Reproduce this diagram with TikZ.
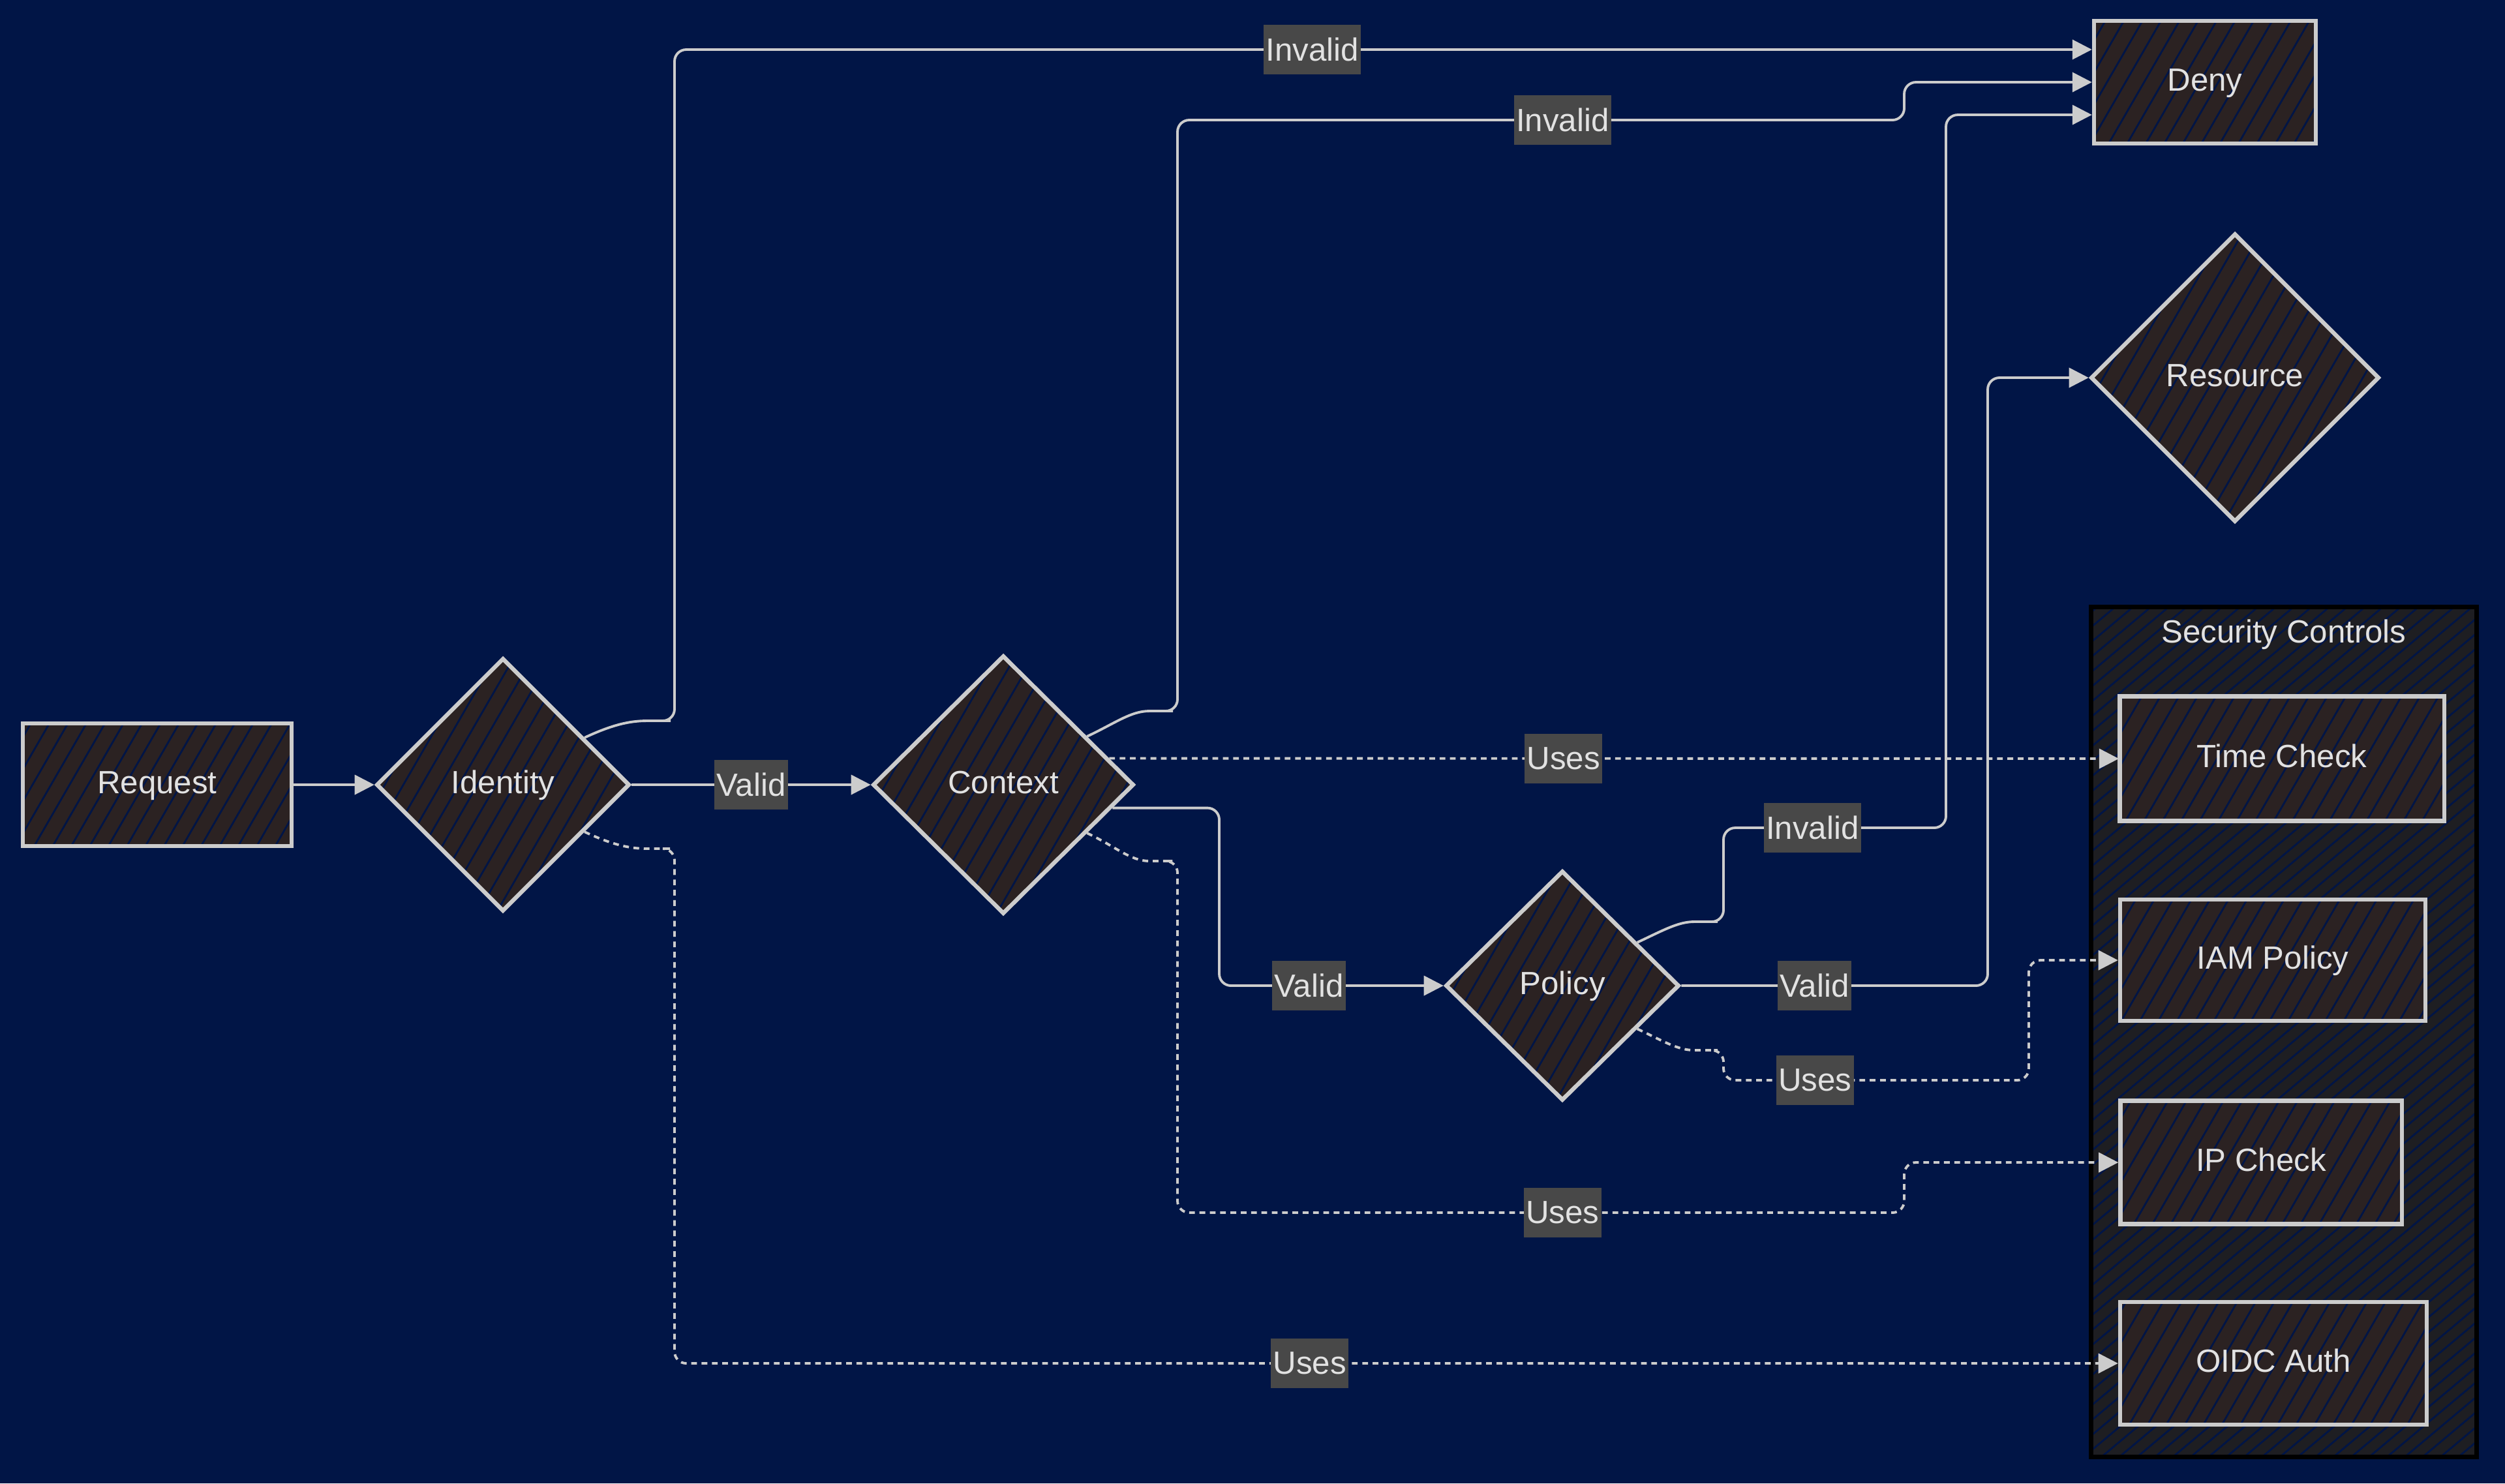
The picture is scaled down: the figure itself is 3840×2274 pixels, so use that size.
\documentclass[tikz,border=0pt]{standalone}
\usepackage{fontspec}
\setmainfont{Liberation Sans}
\usetikzlibrary{shapes.geometric,arrows.meta,patterns.meta}
\definecolor{navybg}{RGB}{1,21,70}
\definecolor{nodefill}{RGB}{43,34,34}
\definecolor{linegray}{RGB}{204,204,204}
\definecolor{lblgray}{RGB}{72,72,72}
\definecolor{txtgray}{RGB}{226,226,226}
\definecolor{clusterfill}{RGB}{30,30,34}
\begin{document}
\begin{tikzpicture}
[x=0.01cm,y=-0.01cm,
every node/.style={text=txtgray, font=\fontsize{14}{17}\selectfont},
box/.style={rectangle, draw=linegray, line width=1.8pt, minimum height=1.88cm, text height=0.8em, text depth=0.06em, preaction={fill=nodefill}, pattern={Lines[angle=60,distance=7pt,line width=0.8pt]}, pattern color=navybg},
choice/.style={diamond, draw=linegray, line width=1.8pt, inner sep=0pt, text height=0.8em, text depth=0.06em, preaction={fill=nodefill}, pattern={Lines[angle=60,distance=7pt,line width=0.8pt]}, pattern color=navybg},
flow/.style={draw=linegray, line width=1.1pt, rounded corners=0.18cm, -{Triangle[length=0.3cm,width=0.3cm]}},
usesflow/.style={flow, dash pattern=on 2.5pt off 2pt},
lbl/.style={fill=lblgray, sharp corners, inner xsep=1pt, inner ysep=0pt, minimum height=0.76cm}]
\useasboundingbox (0,0) rectangle (3840,2274);
\fill[navybg] (0,0) rectangle (3840,2274);
% security controls group
\node[rectangle, draw=black, line width=2pt, preaction={fill=clusterfill}, pattern={Lines[angle=40,distance=5pt,line width=0.8pt]}, pattern color=navybg, minimum width=5.9cm, minimum height=13.03cm] (sec) at (3501,1582) {};
\node (sectitle) at (3501,973) {Security Controls};
\node[box, minimum width=4.97cm, minimum height=1.91cm] (time) at (3498,1163) {Time Check};
\node[box, minimum width=4.68cm, minimum height=1.86cm] (iam) at (3484,1472) {IAM Policy};
\node[box, minimum width=4.31cm, minimum height=1.89cm] (ip) at (3466,1782) {IP Check};
\node[box, minimum width=4.70cm] (oidc) at (3485,2090) {OIDC Auth};
% flow
\node[box, minimum width=4.12cm] (req) at (241,1203) {Request};
\node[choice, minimum width=3.88cm, minimum height=3.88cm] (idn) at (771,1203) {Identity};
\node[choice, minimum width=4.0cm, minimum height=3.96cm] (ctx) at (1538,1203) {Context};
\node[choice, minimum width=3.58cm, minimum height=3.52cm] (pol) at (2395,1511) {Policy};
\node[box, minimum width=3.40cm] (deny) at (3380,126) {Deny};
\node[choice, minimum width=4.42cm, minimum height=4.42cm] (res) at (3426,579) {Resource};
\draw[flow] (req.east) -- (idn.west);
\draw[flow] (idn.east) -- node[lbl]{Valid} (ctx.west);
\draw[flow] (idn.30) to[out=25,in=180] (1010,1105) -| (1034,76) -- node[lbl,pos=0.45]{Invalid} ([yshift=0.5cm]deny.west);
\draw[flow] (ctx.30) to[out=25,in=180] (1780,1090) -| (1805,184) -- node[lbl,pos=0.53]{Invalid} (2919,184) |- (deny.west);
\draw[flow] (pol.30) to[out=25,in=180] (2615,1413) -| (2642,1269) -- node[lbl,pos=0.4]{Invalid} (2983,1269) |- ([yshift=-0.5cm]deny.west);
\draw[flow] (ctx.-12) -| (1869,1511) -- node[lbl,pos=0.4]{Valid} (pol.west);
\draw[flow] (pol.east) -- node[lbl,pos=0.435]{Valid} (3047,1511) |- (res.west);
\draw[usesflow] (ctx.14) -- node[lbl,pos=0.45]{Uses} (time.west);
\draw[usesflow] (pol.-30) to[out=-25,in=180] (2615,1610) -| (2642,1656) -- node[lbl,pos=0.3]{Uses} (3110,1656) |- (iam.west);
\draw[usesflow] (ctx.-30) to[out=-25,in=180] (1780,1320) -| (1805,1859) -- node[lbl,pos=0.53]{Uses} (2919,1859) |- (ip.west);
\draw[usesflow] (idn.-30) to[out=-25,in=180] (1010,1301) -| (1034,2090) -- node[lbl,pos=0.44]{Uses} (oidc.west);
\end{tikzpicture}
\end{document}
